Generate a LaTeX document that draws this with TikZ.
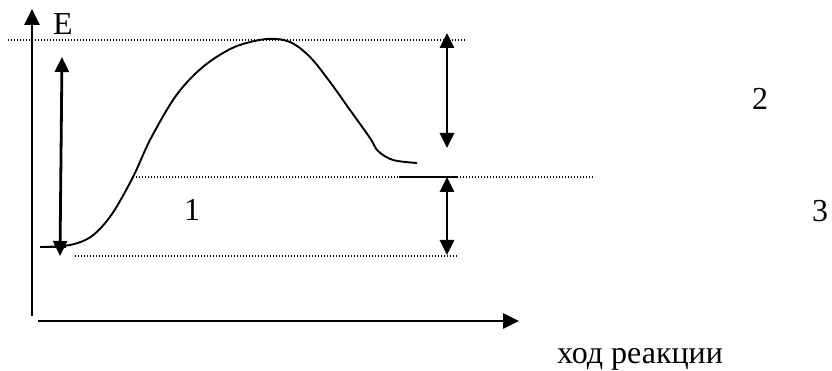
\documentclass[tikz,border=0pt]{standalone}
\usepackage{fontspec}
\setmainfont{Liberation Serif}
\usetikzlibrary{arrows.meta}
\begin{document}
\begin{tikzpicture}[x=1pt,y=-1pt,
  axis/.style={line width=2.8pt,-{Triangle[length=16pt,width=15pt]}},
  dbl/.style={line width=2.8pt,{Triangle[length=15pt,width=14pt]}-{Triangle[length=15pt,width=14pt]}},
  level/.style={line width=1.4pt,dash pattern=on 1.4pt off 1.6pt},
  curve/.style={line width=1.9pt},
  lbl/.style={font=\fontsize{32}{38}\selectfont,anchor=base,inner sep=0pt}]
\useasboundingbox (0,0) rectangle (832,371);
% axes
\coordinate (yb) at (32,316);
\coordinate (yt) at (32,9);
\coordinate (xl) at (38,321);
\coordinate (xr) at (519,321);
\draw[axis] (yb) -- (yt);
\draw[axis] (xl) -- (xr);
% dotted levels
\coordinate (t1) at (8,40);   \coordinate (t2) at (467,40);
\coordinate (m1) at (133,177); \coordinate (m2) at (593,177);
\coordinate (b1) at (75,256);  \coordinate (b2) at (458,256);
\draw[level] (t1) -- (t2);
\draw[level] (m1) -- (m2);
\draw[level] (b1) -- (b2);
% solid level stubs
\coordinate (s1) at (40,247); \coordinate (s2) at (66,247);
\coordinate (p1) at (399,177); \coordinate (p2) at (457,177);
\draw[line width=2pt] (s1) -- (s2);
\draw[line width=2pt] (p1) -- (p2);
% reaction curve
\draw[curve] plot[smooth,tension=0.55] coordinates {(40,247) (70,245) (92,236) (112,214) (133,177) (150,140) (173,100) (192,77) (212,60) (237,46) (267,39) (290,42) (310,57) (330,82) (350,110) (370,138) (378,151) (393,160) (417,163)};
% double arrows
\coordinate (l1) at (62,57); \coordinate (l2) at (60,256);
\coordinate (r1) at (447,33); \coordinate (r2) at (447,148);
\coordinate (q1) at (447,177); \coordinate (q2) at (447,255);
\draw[dbl] (l1) -- (l2);
\draw[dbl] (r1) -- (r2);
\draw[dbl] (q1) -- (q2);
% labels
\node[lbl] (E) at (63,35) {E};
\node[lbl] (n1) at (192,221) {1};
\node[lbl] (n2) at (760,110) {2};
\node[lbl] (n3) at (820,222) {3};
\node[lbl] (xlab) at (640,363) {ход реакции};
\end{tikzpicture}
\end{document}
